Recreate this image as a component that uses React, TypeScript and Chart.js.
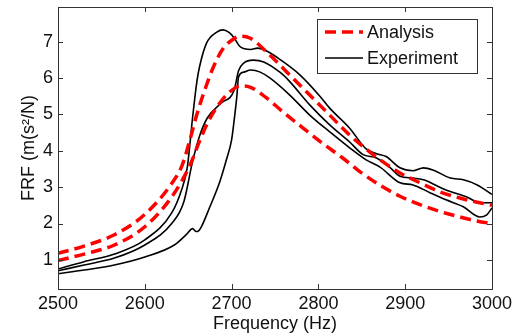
import { useEffect, useRef } from "react";
import { Chart, registerables } from "chart.js";

Chart.register(...registerables);

// ---- Data ----
const xTicks = [2500, 2600, 2700, 2800, 2900, 3000];
const yTicks = [1, 2, 3, 4, 5, 6, 7];

// Analysis (red dashed)
const a1Freq = [2500, 2530, 2565, 2600, 2631, 2643, 2652, 2660, 2671, 2679, 2690, 2701, 2710, 2721, 2744, 2767, 2790, 2813, 2836, 2859, 2871, 2894, 2917, 2940, 2963, 2986, 3000];
const a1Vals = [1.18, 1.38, 1.69, 2.25, 3.1, 3.6, 4.3, 5.0, 5.8, 6.3, 6.8, 7.05, 7.15, 7.1, 6.63, 6.08, 5.53, 4.98, 4.43, 3.97, 3.75, 3.39, 3.12, 2.87, 2.7, 2.57, 2.5];

const a2Freq = [2500, 2530, 2565, 2600, 2631, 2652, 2662, 2673, 2686, 2698, 2710, 2721, 2736, 2759, 2782, 2805, 2828, 2848, 2871, 2894, 2917, 2940, 2963, 2986, 3000];
const a2Vals = [0.98, 1.16, 1.41, 1.91, 2.73, 3.6, 4.2, 4.8, 5.3, 5.62, 5.78, 5.75, 5.53, 5.07, 4.63, 4.2, 3.8, 3.42, 3.05, 2.75, 2.52, 2.33, 2.18, 2.05, 2.0];

// Experiment (black solid)
const e1Freq = [2500, 2530, 2565, 2600, 2631, 2642, 2649, 2655, 2660, 2663, 2671, 2683, 2690, 2697, 2703, 2709, 2715, 2722, 2730, 2742, 2755, 2778, 2801, 2813, 2836, 2855, 2867, 2878, 2894, 2909, 2921, 2932, 2952, 2967, 2983, 3000];
const e1Vals = [0.75, 0.95, 1.16, 1.55, 2.29, 2.9, 3.55, 4.9, 5.9, 6.3, 6.95, 7.26, 7.32, 7.25, 7.1, 6.88, 6.8, 6.78, 6.82, 6.72, 6.52, 6.1, 5.52, 5.17, 4.62, 4.05, 3.92, 3.84, 3.53, 3.45, 3.53, 3.47, 3.25, 3.2, 3.06, 2.8];

const e2Freq = [2500, 2530, 2565, 2600, 2631, 2645, 2655, 2663, 2672, 2688, 2703, 2708, 2714, 2725, 2737, 2756, 2767, 2790, 2813, 2836, 2851, 2867, 2882, 2894, 2909, 2921, 2947, 2971, 2986, 3000];
const e2Vals = [0.7, 0.86, 1.05, 1.41, 2.0, 2.6, 3.7, 4.4, 4.9, 5.31, 5.67, 6.2, 6.41, 6.49, 6.44, 6.15, 5.9, 5.26, 4.71, 4.24, 3.9, 3.8, 3.55, 3.3, 3.25, 3.2, 2.92, 2.73, 2.57, 2.57];

const e3Freq = [2500, 2530, 2565, 2600, 2634, 2648, 2655, 2659, 2662, 2665, 2675, 2686, 2694, 2700, 2703, 2706, 2708, 2714, 2722, 2733, 2744, 2767, 2790, 2813, 2836, 2855, 2871, 2894, 2909, 2929, 2947, 2967, 2986, 2994, 3000];
const e3Vals = [0.62, 0.72, 0.86, 1.08, 1.41, 1.7, 1.86, 1.78, 1.8, 1.9, 2.46, 3.12, 3.75, 4.3, 4.85, 5.48, 6.03, 6.16, 6.22, 6.16, 6.0, 5.53, 4.98, 4.52, 4.08, 3.75, 3.55, 3.12, 3.06, 2.84, 2.65, 2.46, 2.18, 2.24, 2.43];

const legendLabels = ["Analysis", "Experiment"];

const FONT = "'Liberation Sans', Arial, sans-serif";
const RED = "#ff0000";
const BLACK = "#000000";
const DASH = [11, 6];

const toPts = (xs: number[], ys: number[]) => xs.map((x, i) => ({ x, y: ys[i] }));

const framePlugin = {
  id: "frame",
  afterDatasetsDraw(chart: any) {
    const { ctx, chartArea: a, scales } = chart;
    ctx.save();
    ctx.strokeStyle = "#333";
    ctx.lineWidth = 1;
    ctx.beginPath();
    for (const v of xTicks) {
      const px = Math.round(scales.x.getPixelForValue(v)) + 0.5;
      ctx.moveTo(px, a.bottom);
      ctx.lineTo(px, a.bottom - 5);
      ctx.moveTo(px, a.top);
      ctx.lineTo(px, a.top + 5);
    }
    for (const v of yTicks) {
      const py = Math.round(scales.y.getPixelForValue(v)) + 0.5;
      ctx.moveTo(a.left, py);
      ctx.lineTo(a.left + 5, py);
      ctx.moveTo(a.right, py);
      ctx.lineTo(a.right - 5, py);
    }
    ctx.stroke();
    ctx.strokeRect(Math.round(a.left) + 0.5, Math.round(a.top) + 0.5, Math.round(a.right - a.left), Math.round(a.bottom - a.top));
    ctx.restore();
  },
};

const legendPlugin = {
  id: "customLegend",
  afterDraw(chart: any) {
    const { ctx } = chart;
    const bx = 317.5, by = 19.5, bw = 160, bh = 54;
    ctx.save();
    ctx.fillStyle = "#fff";
    ctx.fillRect(bx, by, bw, bh);
    ctx.strokeStyle = "#333";
    ctx.lineWidth = 1;
    ctx.strokeRect(bx, by, bw, bh);
    ctx.beginPath();
    ctx.strokeStyle = RED;
    ctx.lineWidth = 3.5;
    ctx.setLineDash(DASH);
    ctx.moveTo(325, 32);
    ctx.lineTo(363, 32);
    ctx.stroke();
    ctx.beginPath();
    ctx.setLineDash([]);
    ctx.strokeStyle = BLACK;
    ctx.lineWidth = 1.5;
    ctx.moveTo(325, 58);
    ctx.lineTo(363, 58);
    ctx.stroke();
    ctx.fillStyle = "#111";
    ctx.font = `18px ${FONT}`;
    ctx.textBaseline = "middle";
    ctx.textAlign = "left";
    ctx.fillText(legendLabels[0], 367, 33);
    ctx.fillText(legendLabels[1], 367, 59);
    ctx.restore();
  },
};

export default function App() {
  const ref = useRef<HTMLCanvasElement>(null);
  useEffect(() => {
    document.body.style.margin = "0";
    const canvas = ref.current;
    if (!canvas) return;
    const redDs = (label: string, xs: number[], ys: number[]) => ({
      label,
      data: toPts(xs, ys),
      borderColor: RED,
      borderWidth: 3.5,
      borderDash: DASH,
      pointRadius: 0,
      fill: false,
      cubicInterpolationMode: "monotone" as const,
    });
    const blackDs = (label: string, xs: number[], ys: number[]) => ({
      label,
      data: toPts(xs, ys),
      borderColor: BLACK,
      borderWidth: 1.6,
      pointRadius: 0,
      fill: false,
      cubicInterpolationMode: "monotone" as const,
    });
    const tickFont = { family: FONT, size: 18 };
    const chart = new Chart(canvas, {
      type: "line",
      data: {
        datasets: [
          redDs("Analysis", a1Freq, a1Vals),
          redDs("Analysis 2", a2Freq, a2Vals),
          blackDs("Experiment", e1Freq, e1Vals),
          blackDs("Experiment 2", e2Freq, e2Vals),
          blackDs("Experiment 3", e3Freq, e3Vals),
        ],
      },
      options: {
        responsive: false,
        animation: false,
        layout: { padding: { top: 7, right: 26, left: 0, bottom: 0 } },
        plugins: { legend: { display: false }, tooltip: { enabled: false } },
        elements: { point: { radius: 0 } },
        scales: {
          x: {
            type: "linear",
            min: 2500,
            max: 3000,
            afterBuildTicks: (s: any) => {
              s.ticks = xTicks.map((v) => ({ value: v }));
            },
            afterFit: (s: any) => {
              s.height = 46;
              s.paddingLeft = 0;
              s.paddingRight = 0;
            },
            grid: { display: false, drawTicks: false },
            border: { display: false },
            ticks: {
              padding: 4,
              font: tickFont,
              color: "#111",
              maxRotation: 0,
              autoSkip: false,
              callback: (v: any) => String(v),
            },
            title: {
              display: true,
              text: "Frequency (Hz)",
              font: tickFont,
              color: "#111",
              padding: { top: 0, bottom: 0 },
            },
          },
          y: {
            type: "linear",
            min: 0.2,
            max: 7.95,
            afterBuildTicks: (s: any) => {
              s.ticks = yTicks.map((v) => ({ value: v }));
            },
            afterFit: (s: any) => {
              s.width = 58;
              s.paddingTop = 0;
              s.paddingBottom = 0;
            },
            grid: { display: false, drawTicks: false },
            border: { display: false },
            ticks: {
              padding: 5,
              font: tickFont,
              color: "#111",
              autoSkip: false,
              callback: (v: any) => String(v),
            },
            title: {
              display: true,
              text: "FRF (m(s²/N)",
              font: tickFont,
              color: "#111",
              padding: { top: 18, bottom: 0 },
            },
          },
        },
      },
      plugins: [framePlugin, legendPlugin],
    });
    return () => chart.destroy();
  }, []);
  return <canvas ref={ref} width={518} height={335} style={{ display: "block" }} />;
}
